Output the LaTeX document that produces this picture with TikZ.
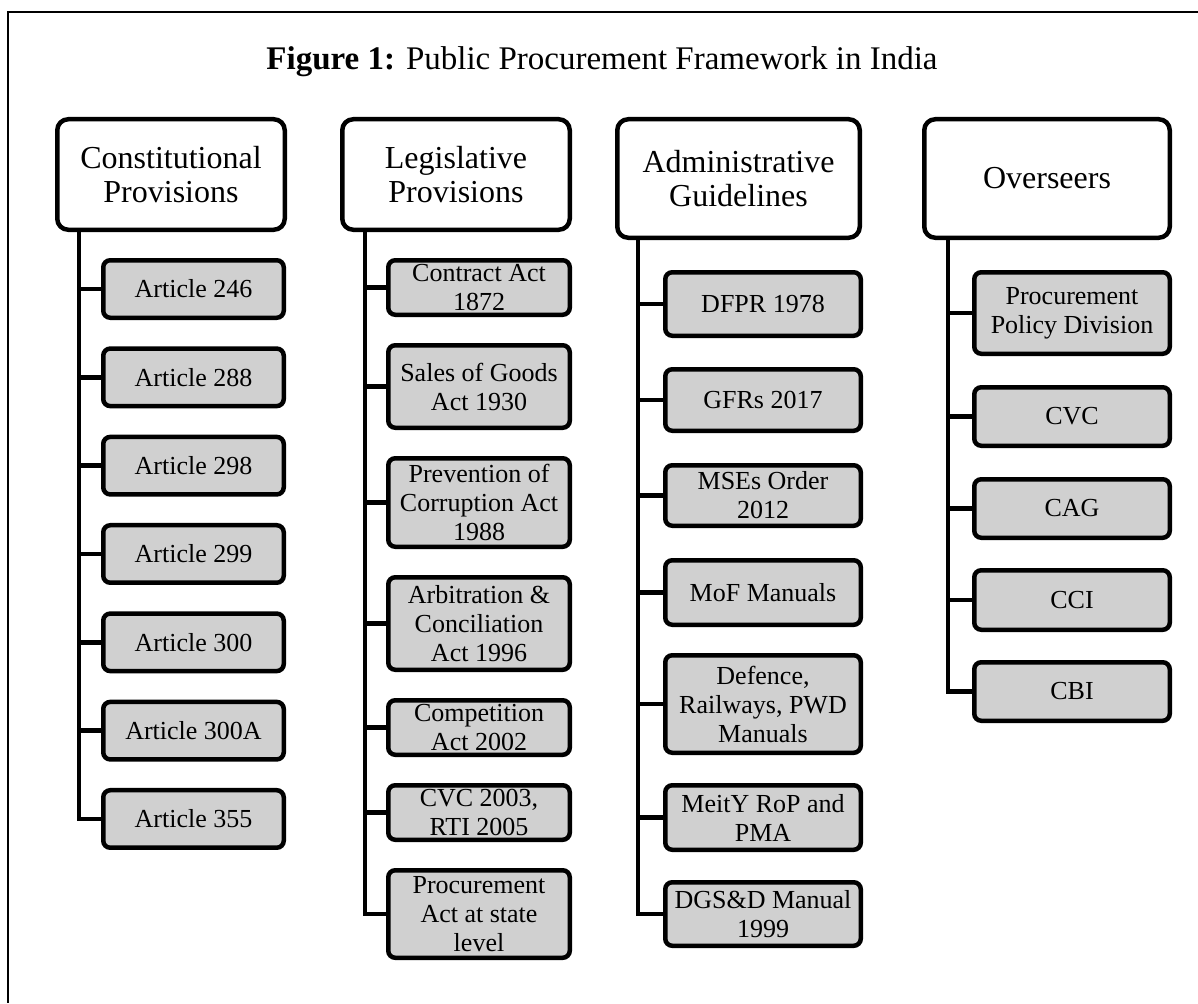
\documentclass[tikz,border=0pt]{standalone}
\usepackage{fontspec}
\setmainfont{Liberation Serif}
\usetikzlibrary{calc}
\definecolor{boxgray}{RGB}{208,208,208}

\tikzset{
  headbox/.style={draw, line width=4.5pt, rounded corners=11pt, fill=white,
    align=center, inner sep=0pt, font=\fontsize{32}{34}\selectfont},
  itembox/.style={draw, line width=4.5pt, rounded corners=7pt, fill=boxgray,
    align=center, inner sep=0pt, font=\fontsize{26}{29}\selectfont},
  branch/.style={line width=4.5pt},
}

\begin{document}
\begin{tikzpicture}[x=1pt,y=-1pt]
  \useasboundingbox (0,0) rectangle (1198,1003);

  %% Frame and title
  \draw[line width=1.2pt] (1198,12) -- (8,12) -- (8,1003);
  \node[anchor=base, font=\fontsize{33}{36}\selectfont] (title) at (602,70)
    {\textbf{Figure 1:} Public Procurement Framework in India};

  %% Column heads
  \node[headbox, minimum width=227.5pt, minimum height=110.5pt] (H1) at (171,174.5)
    {Constitutional\\Provisions};
  \node[headbox, minimum width=227.5pt, minimum height=110.5pt] (H2) at (456,174.5)
    {Legislative\\Provisions};
  \node[headbox, minimum width=242.5pt, minimum height=118.5pt] (H3) at (738.5,178.5)
    {Administrative\\Guidelines};
  \node[headbox, minimum width=245.5pt, minimum height=118.5pt] (H4) at (1047,178.5)
    {Overseers};

  \coordinate (T1) at (79,0);
  \coordinate (T2) at (365,0);
  \coordinate (T3) at (638,0);
  \coordinate (T4) at (948,0);

  %% Constitutional provisions
  \foreach \lbl [count=\i] in {246,288,298,299,300,300A,355}
  {
    \node[itembox, minimum width=180.5pt, minimum height=57.5pt] (C1-\i)
      at (193.5,{289+88.33*(\i-1)}) {Article \lbl};
  }

  %% Legislative provisions
  \foreach \y/\h/\txt [count=\i] in {
      287.5/54.5/{Contract Act\\1872},
      386.5/82.5/{Sales of Goods\\Act 1930},
      502.5/88.5/{Prevention of\\Corruption Act\\1988},
      623.5/92.5/{Arbitration \&\\Conciliation\\Act 1996},
      727.5/54.5/{Competition\\Act 2002},
      812.5/54.5/{CVC 2003,\\RTI 2005},
      914/87.5/{Procurement\\Act at state\\level}}
  {
    \node[itembox, minimum width=181.5pt, minimum height=\h pt] (C2-\i)
      at (479,\y) {\txt};
  }

  %% Administrative guidelines
  \foreach \y/\h/\txt [count=\i] in {
      304/63.5/{DFPR 1978},
      400/61.5/{GFRs 2017},
      495.5/60.5/{MSEs Order\\2012},
      592.5/64.5/{MoF Manuals},
      704/97.5/{Defence,\\Railways, PWD\\Manuals},
      817.5/64.5/{MeitY RoP and\\PMA},
      914/63.5/{DGS\&D Manual\\1999}}
  {
    \node[itembox, minimum width=195.5pt, minimum height=\h pt] (C3-\i)
      at (763,\y) {\txt};
  }

  %% Overseers
  \foreach \y/\h/\txt [count=\i] in {
      313/81.5/{Procurement\\Policy Division},
      416.5/58.5/{CVC},
      508.5/58.5/{CAG},
      600/59.5/{CCI},
      691.5/58.5/{CBI}}
  {
    \node[itembox, minimum width=195.5pt, minimum height=\h pt] (C4-\i)
      at (1072,\y) {\txt};
  }

  %% Trunks and branches
  \draw[branch] (T1 |- H1.south) |- (C1-7.west);
  \foreach \i in {1,...,6}
    \draw[branch] (T1 |- C1-\i.west) -- (C1-\i.west);

  \draw[branch] (T2 |- H2.south) |- (C2-7.west);
  \foreach \i in {1,...,6}
    \draw[branch] (T2 |- C2-\i.west) -- (C2-\i.west);

  \draw[branch] (T3 |- H3.south) |- (C3-7.west);
  \foreach \i in {1,...,6}
    \draw[branch] (T3 |- C3-\i.west) -- (C3-\i.west);

  \draw[branch] (T4 |- H4.south) |- (C4-5.west);
  \foreach \i in {1,...,4}
    \draw[branch] (T4 |- C4-\i.west) -- (C4-\i.west);

\end{tikzpicture}
\end{document}
